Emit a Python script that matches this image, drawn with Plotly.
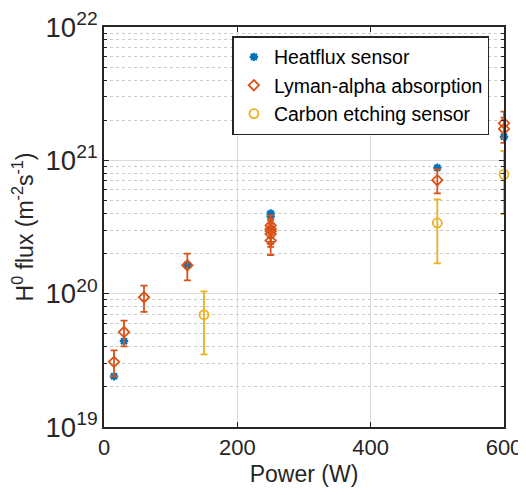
import plotly.graph_objects as go

# Heatflux sensor
hf_power = [15, 30, 125, 250, 250, 500, 600]
hf_flux = [2.4e19, 4.4e19, 1.65e20, 4.0e20, 3.8e20, 8.8e20, 1.5e21]

# Lyman-alpha absorption
ly_power = [15, 30, 60, 125, 250, 250, 250, 250, 250, 500, 600, 600]
ly_flux = [3.08e19, 5.15e19, 9.4e19, 1.63e20, 3.25e20, 3.05e20, 2.95e20, 2.8e20, 2.5e20, 7.1e20, 1.9e21, 1.72e21]
ly_err = [0.68e19, 1.12e19, 2.1e19, 0.37e20, 0.62e20, 0.6e20, 0.6e20, 0.56e20, 0.55e20, 1.45e20, 0.42e21, 0.37e21]

# Carbon etching sensor
ce_power = [150, 500, 600]
ce_flux = [6.95e19, 3.39e20, 7.85e20]
ce_err = [3.45e19, 1.7e20, 3.9e20]

BLUE = "#0072BD"
ORANGE = "#D95319"
YELLOW = "#EDB120"
FONT = "Liberation Sans, Arial, sans-serif"

fig = go.Figure()
fig.add_trace(go.Scatter(
    x=hf_power, y=hf_flux, mode="markers", name="Heatflux sensor",
    marker=dict(symbol="asterisk-open", size=7, color=BLUE, line=dict(color=BLUE, width=2.2)),
    cliponaxis=False))
fig.add_trace(go.Scatter(
    x=ly_power, y=ly_flux, mode="markers", name="Lyman-alpha absorption",
    error_y=dict(type="data", array=ly_err, color=ORANGE, thickness=1.8, width=3.5),
    marker=dict(symbol="diamond-open", size=8, color=ORANGE, line=dict(color=ORANGE, width=1.8)),
    cliponaxis=False))
fig.add_trace(go.Scatter(
    x=ce_power, y=ce_flux, mode="markers", name="Carbon etching sensor",
    error_y=dict(type="data", array=ce_err, color=YELLOW, thickness=1.8, width=3.5),
    marker=dict(symbol="circle-open", size=9, color=YELLOW, line=dict(color=YELLOW, width=1.8)),
    cliponaxis=False))

fig.update_layout(
    width=518, height=487,
    margin=dict(l=95.5, r=22, t=18.7, b=68.4, autoexpand=False),
    paper_bgcolor="white", plot_bgcolor="white",
    font=dict(family=FONT, color="#262626", size=20),
    showlegend=True,
    legend=dict(x=0.321, y=0.977, xanchor="left", yanchor="top",
                bgcolor="white", bordercolor="#262626", borderwidth=1.5,
                font=dict(size=19.5, color="#000000"), tracegroupgap=0,
                itemwidth=30),
)
fig.update_xaxes(
    range=[0, 600], tickvals=[0, 200, 400, 600], ticktext=["0", "200", "400", "600"],
    showgrid=True, gridcolor="#DCDCDC", gridwidth=1.2,
    showline=True, linecolor="#262626", linewidth=2, mirror="allticks",
    ticks="inside", ticklen=5, tickcolor="#262626",
    tickfont=dict(size=22), zeroline=False, automargin=False,
    title=dict(text="Power (W)", font=dict(size=23), standoff=6),
)
fig.update_yaxes(
    type="log", range=[19, 22], dtick=1, exponentformat="power",
    showgrid=True, gridcolor="#DCDCDC", gridwidth=1.2,
    showline=True, linecolor="#262626", linewidth=2, mirror="allticks",
    ticks="inside", ticklen=5, tickcolor="#262626",
    tickfont=dict(size=22), zeroline=False, automargin=False,
    minor=dict(ticks="inside", ticklen=3, tickcolor="#262626", showgrid=True,
               gridcolor="#CCCCCC", griddash="dot", gridwidth=1),
    title=dict(text="H<sup>0</sup> flux (m<sup>-2</sup>s<sup>-1</sup>)", font=dict(size=23), standoff=6),
)

fig.write_html("out.html")
